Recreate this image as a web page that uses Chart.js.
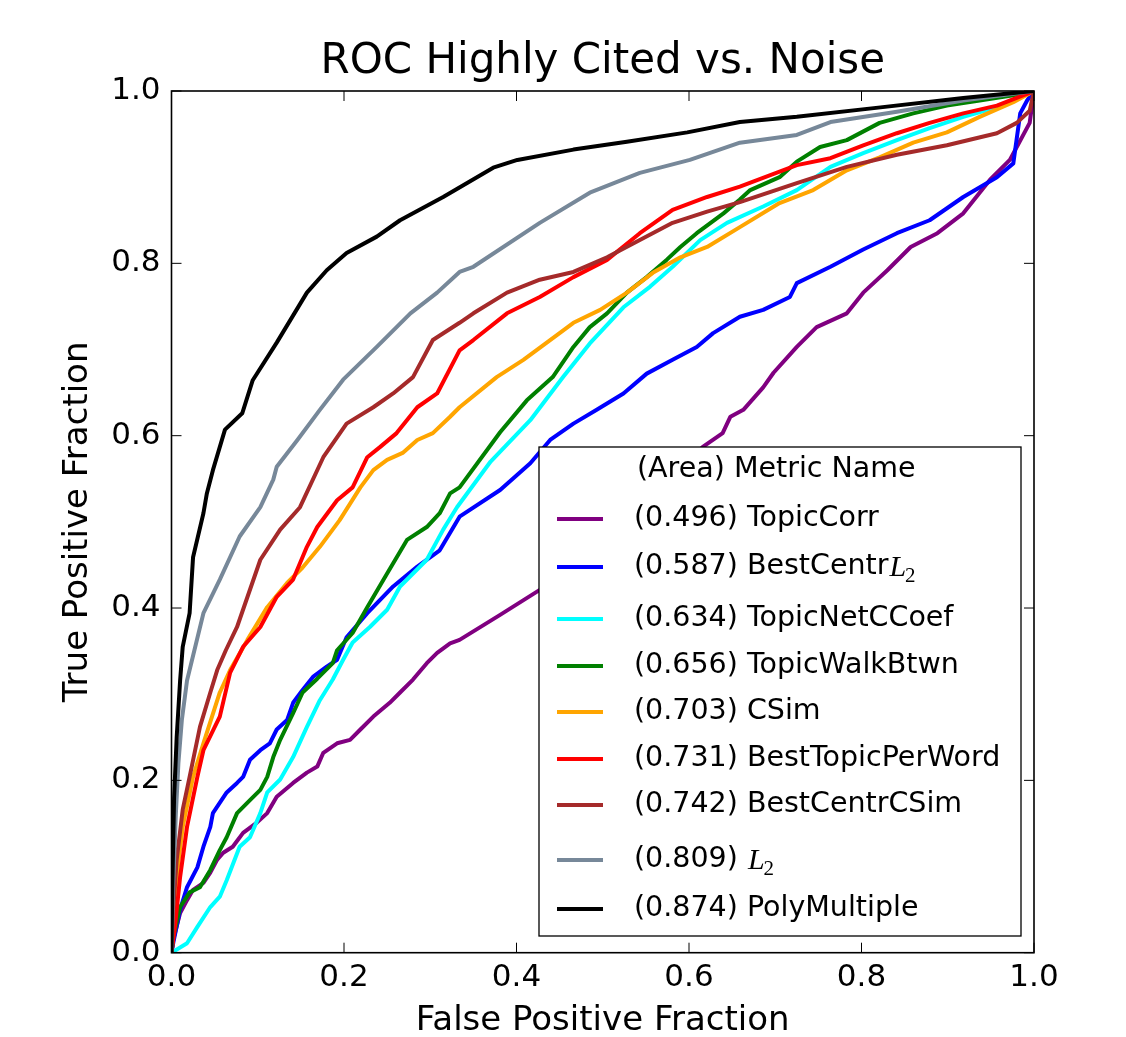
<!DOCTYPE html>
<html>
<head>
<meta charset="utf-8">
<script src="https://cdn.jsdelivr.net/npm/chart.js@4.4.1/dist/chart.umd.min.js"></script>
<style>
  html, body { margin: 0; padding: 0; background: #fff; }
  canvas { display: block; }
</style>
</head>
<body>
<canvas id="roc" width="1126" height="1037"></canvas>
<script>
// ROC Highly Cited vs. Noise

let metricNames = ['TopicCorr', 'BestCentr$L_2$', 'TopicNetCCoef', 'TopicWalkBtwn', 'CSim',
  'BestTopicPerWord', 'BestCentrCSim', '$L_2$', 'PolyMultiple'];
let metricAreas = ['0.496', '0.587', '0.634', '0.656', '0.703', '0.731', '0.742', '0.809', '0.874'];
let axisTicks = [0.0, 0.2, 0.4, 0.6, 0.8, 1.0];

let topicCorrFpr = [0, 0.002, 0.010, 0.018, 0.025, 0.037, 0.045, 0.053, 0.060, 0.071, 0.083, 0.099, 0.111, 0.122, 0.141, 0.157, 0.169, 0.176, 0.192, 0.207, 0.219, 0.234, 0.253, 0.265, 0.280, 0.296, 0.308, 0.323, 0.334, 0.381, 0.427, 0.50, 0.56, 0.616, 0.639, 0.648, 0.663, 0.686, 0.698, 0.725, 0.748, 0.783, 0.802, 0.830, 0.857, 0.888, 0.918, 0.949, 0.972, 0.995, 1];
let topicCorrTpr = [0, 0.015, 0.046, 0.061, 0.073, 0.081, 0.093, 0.108, 0.116, 0.123, 0.139, 0.151, 0.162, 0.181, 0.197, 0.209, 0.216, 0.232, 0.243, 0.247, 0.259, 0.274, 0.290, 0.302, 0.317, 0.336, 0.348, 0.359, 0.363, 0.392, 0.421, 0.47, 0.525, 0.587, 0.603, 0.622, 0.630, 0.656, 0.673, 0.703, 0.726, 0.742, 0.766, 0.792, 0.819, 0.835, 0.858, 0.897, 0.920, 0.963, 1];

let centrL2Fpr = [0, 0.002, 0.010, 0.018, 0.030, 0.037, 0.045, 0.048, 0.064, 0.076, 0.083, 0.091, 0.103, 0.114, 0.122, 0.134, 0.141, 0.152, 0.164, 0.180, 0.192, 0.203, 0.227, 0.257, 0.285, 0.311, 0.334, 0.381, 0.416, 0.439, 0.466, 0.493, 0.524, 0.551, 0.581, 0.609, 0.628, 0.659, 0.686, 0.717, 0.725, 0.764, 0.802, 0.841, 0.879, 0.918, 0.957, 0.976, 0.984, 0.992, 1];
let centrL2Tpr = [0, 0.011, 0.050, 0.076, 0.099, 0.123, 0.146, 0.162, 0.186, 0.197, 0.204, 0.224, 0.235, 0.243, 0.259, 0.270, 0.290, 0.305, 0.320, 0.332, 0.340, 0.366, 0.394, 0.425, 0.448, 0.467, 0.506, 0.537, 0.568, 0.595, 0.614, 0.630, 0.649, 0.672, 0.688, 0.703, 0.719, 0.738, 0.746, 0.761, 0.777, 0.796, 0.816, 0.835, 0.850, 0.877, 0.900, 0.916, 0.974, 0.989, 1];

let netCCoefFpr = [0, 0.018, 0.030, 0.045, 0.056, 0.064, 0.079, 0.091, 0.103, 0.111, 0.126, 0.141, 0.157, 0.172, 0.187, 0.199, 0.210, 0.230, 0.250, 0.265, 0.296, 0.315, 0.331, 0.370, 0.416, 0.454, 0.485, 0.524, 0.555, 0.581, 0.613, 0.644, 0.686, 0.725, 0.764, 0.802, 0.841, 0.879, 0.918, 0.957, 1];
let netCCoefTpr = [0, 0.011, 0.030, 0.053, 0.065, 0.084, 0.123, 0.134, 0.162, 0.186, 0.201, 0.227, 0.262, 0.293, 0.317, 0.340, 0.360, 0.378, 0.398, 0.425, 0.456, 0.491, 0.517, 0.570, 0.618, 0.668, 0.707, 0.749, 0.773, 0.796, 0.827, 0.847, 0.866, 0.885, 0.912, 0.928, 0.943, 0.957, 0.970, 0.981, 1];

let walkBtwnFpr = [0, 0.002, 0.010, 0.021, 0.033, 0.045, 0.056, 0.064, 0.076, 0.091, 0.103, 0.111, 0.118, 0.126, 0.141, 0.152, 0.169, 0.187, 0.192, 0.210, 0.227, 0.250, 0.273, 0.296, 0.311, 0.323, 0.334, 0.381, 0.412, 0.442, 0.466, 0.485, 0.505, 0.528, 0.551, 0.574, 0.590, 0.609, 0.640, 0.659, 0.671, 0.705, 0.725, 0.752, 0.783, 0.821, 0.860, 0.899, 0.937, 0.976, 1];
let walkBtwnTpr = [0, 0.018, 0.053, 0.070, 0.076, 0.096, 0.119, 0.134, 0.162, 0.177, 0.189, 0.204, 0.227, 0.247, 0.278, 0.302, 0.318, 0.336, 0.351, 0.371, 0.401, 0.440, 0.479, 0.494, 0.510, 0.533, 0.540, 0.604, 0.641, 0.668, 0.703, 0.726, 0.742, 0.766, 0.784, 0.804, 0.819, 0.835, 0.858, 0.874, 0.885, 0.900, 0.918, 0.935, 0.943, 0.963, 0.974, 0.983, 0.989, 0.995, 1];

let cSimFpr = [0, 0.002, 0.006, 0.013, 0.025, 0.037, 0.056, 0.068, 0.088, 0.111, 0.134, 0.152, 0.172, 0.195, 0.219, 0.234, 0.250, 0.268, 0.285, 0.303, 0.323, 0.334, 0.377, 0.408, 0.439, 0.466, 0.497, 0.528, 0.558, 0.590, 0.621, 0.659, 0.705, 0.744, 0.783, 0.821, 0.860, 0.899, 0.937, 0.976, 1];
let cSimTpr = [0, 0.030, 0.088, 0.146, 0.204, 0.243, 0.302, 0.328, 0.363, 0.401, 0.429, 0.447, 0.471, 0.502, 0.540, 0.560, 0.572, 0.580, 0.595, 0.603, 0.622, 0.633, 0.668, 0.688, 0.711, 0.731, 0.746, 0.766, 0.789, 0.807, 0.819, 0.842, 0.870, 0.885, 0.908, 0.923, 0.940, 0.952, 0.970, 0.987, 1];

let topicPerWordFpr = [0, 0.004, 0.010, 0.018, 0.030, 0.037, 0.056, 0.068, 0.083, 0.103, 0.122, 0.141, 0.157, 0.169, 0.192, 0.210, 0.227, 0.242, 0.261, 0.285, 0.308, 0.334, 0.350, 0.389, 0.427, 0.466, 0.505, 0.543, 0.581, 0.621, 0.659, 0.725, 0.764, 0.802, 0.841, 0.879, 0.918, 0.957, 1];
let topicPerWordTpr = [0, 0.030, 0.088, 0.146, 0.204, 0.235, 0.274, 0.325, 0.355, 0.378, 0.413, 0.433, 0.471, 0.494, 0.525, 0.540, 0.575, 0.587, 0.603, 0.633, 0.649, 0.699, 0.711, 0.742, 0.761, 0.784, 0.804, 0.835, 0.862, 0.877, 0.889, 0.914, 0.922, 0.937, 0.951, 0.963, 0.974, 0.983, 1];

let centrCSimFpr = [0, 0.002, 0.006, 0.013, 0.021, 0.033, 0.045, 0.053, 0.063, 0.076, 0.103, 0.126, 0.149, 0.176, 0.203, 0.234, 0.257, 0.280, 0.303, 0.334, 0.350, 0.389, 0.427, 0.466, 0.505, 0.543, 0.581, 0.621, 0.659, 0.725, 0.783, 0.841, 0.899, 0.957, 0.980, 0.995, 1];
let centrCSimTpr = [0, 0.050, 0.108, 0.166, 0.204, 0.262, 0.302, 0.328, 0.351, 0.378, 0.456, 0.491, 0.517, 0.575, 0.614, 0.633, 0.649, 0.668, 0.711, 0.731, 0.742, 0.766, 0.781, 0.790, 0.807, 0.827, 0.847, 0.860, 0.871, 0.893, 0.912, 0.926, 0.937, 0.951, 0.963, 0.977, 1];

let l2Fpr = [0, 0.002, 0.005, 0.008, 0.012, 0.018, 0.037, 0.056, 0.079, 0.103, 0.118, 0.122, 0.146, 0.172, 0.199, 0.238, 0.277, 0.308, 0.334, 0.350, 0.427, 0.485, 0.543, 0.601, 0.659, 0.725, 0.764, 0.841, 0.918, 1];
let l2Tpr = [0, 0.08, 0.16, 0.22, 0.27, 0.316, 0.394, 0.433, 0.483, 0.517, 0.549, 0.564, 0.595, 0.630, 0.665, 0.703, 0.742, 0.766, 0.790, 0.796, 0.847, 0.882, 0.905, 0.920, 0.940, 0.949, 0.964, 0.976, 0.989, 1];

let polyFpr = [0, 0.001, 0.003, 0.006, 0.010, 0.013, 0.021, 0.025, 0.037, 0.041, 0.048, 0.062, 0.082, 0.094, 0.122, 0.157, 0.180, 0.203, 0.238, 0.265, 0.315, 0.373, 0.401, 0.466, 0.528, 0.598, 0.659, 0.725, 0.822, 0.918, 1];
let polyTpr = [0, 0.08, 0.18, 0.25, 0.316, 0.355, 0.394, 0.459, 0.510, 0.533, 0.560, 0.607, 0.626, 0.664, 0.708, 0.766, 0.792, 0.812, 0.831, 0.850, 0.877, 0.911, 0.920, 0.932, 0.941, 0.952, 0.964, 0.970, 0.981, 0.992, 1];

let curves = [
  [topicCorrFpr, topicCorrTpr], [centrL2Fpr, centrL2Tpr], [netCCoefFpr, netCCoefTpr],
  [walkBtwnFpr, walkBtwnTpr], [cSimFpr, cSimTpr], [topicPerWordFpr, topicPerWordTpr],
  [centrCSimFpr, centrCSimTpr], [l2Fpr, l2Tpr], [polyFpr, polyTpr]
];
let lineColors = ['#800080', '#0000ff', '#00ffff', '#008000', '#ffa500', '#ff0000', '#a52a2a', '#778899', '#000000'];

let fontFamily = '"DejaVu Sans", sans-serif';

let datasets = curves.map(function (c, i) {
  return {
    label: metricNames[i],
    data: c[0].map(function (x, j) { return { x: x, y: c[1][j] }; }),
    borderColor: lineColors[i],
    borderWidth: 4,
    pointRadius: 0,
    tension: 0,
    fill: false,
    borderJoinStyle: 'round',
    order: curves.length - i // later curves on top, like matplotlib
  };
});

// frame and inward ticks, matplotlib classic look
let frameTicks = {
  id: 'frameTicks',
  afterDatasetsDraw(chart) {
    let ctx = chart.ctx, a = chart.chartArea;
    let xs = chart.scales.x, ys = chart.scales.y;
    ctx.save();
    ctx.strokeStyle = '#000';
    ctx.lineWidth = 1;
    ctx.beginPath();
    axisTicks.forEach(function (v) {
      let px = xs.getPixelForValue(v), py = ys.getPixelForValue(v);
      ctx.moveTo(px, a.bottom); ctx.lineTo(px, a.bottom - 10);
      ctx.moveTo(px, a.top); ctx.lineTo(px, a.top + 10);
      ctx.moveTo(a.left, py); ctx.lineTo(a.left + 10, py);
      ctx.moveTo(a.right, py); ctx.lineTo(a.right - 10, py);
    });
    ctx.stroke();
    ctx.lineWidth = 1.6;
    ctx.strokeRect(a.left, a.top, a.right - a.left, a.bottom - a.top);
    ctx.restore();
  }
};

// legend box inside the plot, lower right
let insideLegend = {
  id: 'insideLegend',
  afterDraw(chart) {
    let ctx = chart.ctx, a = chart.chartArea;
    let left = a.left + 367.5, top = a.top + 356, w = 482, h = 489;
    let rows = [72, 120, 172, 219, 265, 312, 358, 413, 462];
    ctx.save();
    ctx.fillStyle = '#fff';
    ctx.fillRect(left, top, w, h);
    ctx.strokeStyle = '#000';
    ctx.lineWidth = 1.3;
    ctx.strokeRect(left, top, w, h);
    ctx.textBaseline = 'middle';
    ctx.textAlign = 'left';
    ctx.fillStyle = '#000';
    ctx.font = '28.5px ' + fontFamily;
    ctx.fillText('(Area) Metric Name', left + 98, top + 23);
    metricNames.forEach(function (name, i) {
      let y = top + rows[i];
      ctx.strokeStyle = lineColors[i];
      ctx.lineWidth = 4;
      ctx.beginPath();
      ctx.moveTo(left + 18, y);
      ctx.lineTo(left + 64, y);
      ctx.stroke();
      ctx.font = '28.5px ' + fontFamily;
      let plain = name.replace('$L_2$', '');
      let text = '(' + metricAreas[i] + ') ' + plain;
      let tx = left + 95;
      ctx.fillText(text, tx, y);
      if (name.indexOf('$L_2$') >= 0) {
        tx += ctx.measureText(text).width + 1;
        ctx.font = 'italic 30px "Liberation Serif", "DejaVu Serif", serif';
        ctx.fillText('L', tx, y + 1);
        tx += ctx.measureText('L').width - 1;
        ctx.font = '21px "Liberation Serif", "DejaVu Serif", serif';
        ctx.fillText('2', tx, y + 9);
      }
    });
    ctx.restore();
  }
};

let fixedTicks = function (scale) {
  scale.ticks = axisTicks.map(function (v) { return { value: v }; });
};

new Chart(document.getElementById('roc'), {
  type: 'line',
  data: { datasets: datasets },
  options: {
    responsive: false,
    animation: false,
    devicePixelRatio: 1,
    layout: { padding: { left: 0, right: 92, top: 0, bottom: 0 } },
    plugins: {
      legend: { display: false },
      tooltip: { enabled: false },
      title: {
        display: true,
        text: 'ROC Highly Cited vs. Noise',
        color: '#000',
        fullSize: false,
        font: { family: fontFamily, size: 42, weight: 'normal' },
        padding: { top: 36.8, bottom: 3.8 }
      }
    },
    scales: {
      x: {
        type: 'linear',
        min: 0,
        max: 1,
        afterBuildTicks: fixedTicks,
        afterFit: function (s) { s.height = 84.3; },
        grid: { display: false, drawTicks: false },
        border: { display: false },
        ticks: {
          color: '#000',
          padding: 7,
          font: { family: fontFamily, size: 31 },
          maxRotation: 0,
          callback: function (v) { return Number(v).toFixed(1); }
        },
        title: {
          display: true,
          text: 'False Positive Fraction',
          color: '#000',
          font: { family: fontFamily, size: 34, lineHeight: 0.9 },
          padding: { top: 0, bottom: 0.7 }
        }
      },
      y: {
        type: 'linear',
        min: 0,
        max: 1,
        afterBuildTicks: fixedTicks,
        afterFit: function (s) { s.width = 171.5; },
        grid: { display: false, drawTicks: false },
        border: { display: false },
        ticks: {
          color: '#000',
          padding: 11,
          font: { family: fontFamily, size: 31 },
          callback: function (v) { return Number(v).toFixed(1); }
        },
        title: {
          display: true,
          text: 'True Positive Fraction',
          color: '#000',
          font: { family: fontFamily, size: 34 },
          padding: { top: 58, bottom: 0 }
        }
      }
    }
  },
  plugins: [frameTicks, insideLegend]
});
</script>
</body>
</html>
